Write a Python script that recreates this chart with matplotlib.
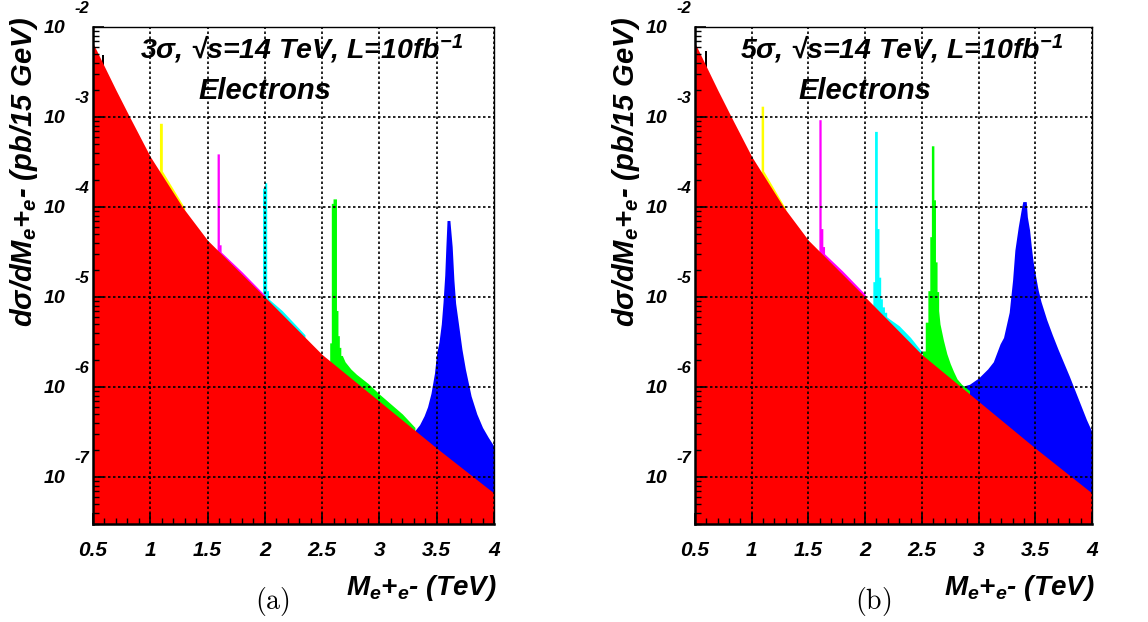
import numpy as np
import matplotlib.pyplot as plt
from matplotlib.ticker import MultipleLocator, LogLocator, NullFormatter, FixedLocator, FixedFormatter

plt.rcParams['font.family'] = ['Liberation Sans', 'DejaVu Sans']
plt.rcParams['mathtext.default'] = 'regular'

x_ticks = [0.5, 1.0, 1.5, 2.0, 2.5, 3.0, 3.5, 4.0]
x_tick_labels = ["0.5", "1", "1.5", "2", "2.5", "3", "3.5", "4"]
y_decades = [-7, -6, -5, -4, -3, -2]

# Drell-Yan background, log10(dsigma/dM)
dy_mass = [0.50, 0.60, 0.70, 0.82, 1.00, 1.28, 1.50, 2.00, 2.50, 3.00, 3.50, 4.00]
dy_log = [-2.18, -2.44, -2.70, -3.00, -3.44, -4.00, -4.37, -5.00, -5.64, -6.16, -6.68, -7.18]

# panel (a), 3 sigma: signal + DY, log10 values
a_black_m = [0.582, 0.582, 0.600, 0.600]
a_black_log = [-2.50, -2.31, -2.31, -2.50]
a_yellow_m = [1.080, 1.080, 1.105, 1.105, 1.30]
a_yellow_log = [-3.66, -3.07, -3.07, -3.60, -4.01]
a_magenta_m = [1.583, 1.583, 1.603, 1.603, 1.618, 1.618, 1.80, 2.00]
a_magenta_log = [-4.55, -3.41, -3.41, -4.42, -4.42, -4.50, -4.72, -4.98]
a_cyan_m = [1.980, 1.980, 1.998, 1.998, 2.016, 2.016, 2.032, 2.032, 2.15, 2.35]
a_cyan_log = [-5.05, -3.79, -3.79, -3.73, -3.73, -4.93, -4.93, -5.02, -5.15, -5.42]
a_green_m = [2.566, 2.566, 2.580, 2.580, 2.595, 2.595, 2.625, 2.625, 2.638, 2.638,
             2.650, 2.650, 2.663, 2.663, 2.676, 2.70, 2.75, 2.80, 2.90, 3.00, 3.10,
             3.20, 3.31]
a_green_log = [-5.75, -5.51, -5.51, -3.96, -3.96, -3.91, -3.91, -5.15, -5.15, -5.43,
               -5.43, -5.56, -5.56, -5.65, -5.65, -5.72, -5.80, -5.86, -5.96, -6.08,
               -6.19, -6.30, -6.45]
a_blue_m = [3.30, 3.35, 3.39, 3.42, 3.45, 3.48, 3.50, 3.52, 3.54, 3.555, 3.57, 3.58,
            3.59, 3.615, 3.635, 3.65, 3.665, 3.69, 3.72, 3.75, 3.80, 3.85, 3.90, 3.95, 4.00]
a_blue_log = [-6.50, -6.42, -6.32, -6.22, -6.07, -5.85, -5.62, -5.50, -5.30, -5.06,
              -4.76, -4.44, -4.15, -4.15, -4.44, -4.81, -5.07, -5.30, -5.58, -5.80,
              -6.10, -6.30, -6.45, -6.56, -6.66]

# panel (b), 5 sigma
b_black_m = [0.592, 0.592, 0.610, 0.610]
b_black_log = [-2.55, -2.27, -2.27, -2.55]
b_yellow_m = [1.083, 1.083, 1.105, 1.105, 1.30]
b_yellow_log = [-3.66, -2.88, -2.88, -3.60, -4.02]
b_magenta_m = [1.592, 1.592, 1.612, 1.612, 1.627, 1.627, 1.642, 1.642, 1.80, 2.00]
b_magenta_log = [-4.55, -3.03, -3.03, -4.24, -4.24, -4.44, -4.44, -4.52, -4.71, -4.97]
b_cyan_m = [2.068, 2.068, 2.083, 2.083, 2.107, 2.107, 2.122, 2.122, 2.137, 2.137, 2.152,
            2.152, 2.17, 2.17, 2.19, 2.19, 2.21, 2.30, 2.40, 2.50]
b_cyan_log = [-5.12, -4.83, -4.83, -3.16, -3.16, -4.24, -4.24, -4.78, -4.78, -5.02,
              -5.02, -5.11, -5.11, -5.17, -5.17, -5.22, -5.24, -5.32, -5.45, -5.61]
b_green_m = [2.505, 2.505, 2.53, 2.53, 2.553, 2.553, 2.570, 2.570, 2.584, 2.584, 2.606,
             2.606, 2.620, 2.620, 2.634, 2.634, 2.648, 2.648, 2.66, 2.69, 2.72, 2.75,
             2.78, 2.81, 2.85, 2.92]
b_green_log = [-5.66, -5.60, -5.60, -5.28, -5.28, -4.93, -4.93, -4.33, -4.33, -3.32,
               -3.32, -3.92, -3.92, -4.61, -4.61, -4.94, -4.94, -5.15, -5.30, -5.48,
               -5.63, -5.74, -5.83, -5.91, -5.97, -6.04]
b_blue_m = [2.84, 2.92, 3.00, 3.08, 3.13, 3.19, 3.22, 3.27, 3.30, 3.32, 3.35, 3.38, 3.39,
            3.42, 3.43, 3.45, 3.465, 3.48, 3.50, 3.525, 3.55, 3.60, 3.65, 3.70, 3.75,
            3.80, 3.85, 3.90, 3.95, 4.00]
b_blue_log = [-6.00, -5.97, -5.90, -5.80, -5.72, -5.52, -5.45, -5.17, -4.81, -4.48,
              -4.22, -4.00, -3.94, -3.94, -4.11, -4.26, -4.44, -4.60, -4.75, -4.92,
              -5.05, -5.25, -5.42, -5.58, -5.73, -5.88, -6.04, -6.20, -6.36, -6.50]

panel_a = [(a_blue_m, a_blue_log, '#0000ff'), (a_green_m, a_green_log, '#00ff00'),
           (a_cyan_m, a_cyan_log, '#00ffff'), (a_magenta_m, a_magenta_log, '#ff00ff'),
           (a_yellow_m, a_yellow_log, '#ffff00'), (a_black_m, a_black_log, 'black')]
panel_b = [(b_blue_m, b_blue_log, '#0000ff'), (b_green_m, b_green_log, '#00ff00'),
           (b_cyan_m, b_cyan_log, '#00ffff'), (b_magenta_m, b_magenta_log, '#ff00ff'),
           (b_yellow_m, b_yellow_log, '#ffff00'), (b_black_m, b_black_log, 'black')]

FLOOR = 1e-9
bi = dict(fontweight='bold', fontstyle='italic')


def draw_panel(ax, signals):
    for m, lg, col in signals:
        ax.fill_between(m, FLOOR, 10.0 ** np.array(lg), color=col, lw=0, zorder=1)
    ax.fill_between(dy_mass, FLOOR, 10.0 ** np.array(dy_log), color='#ff0000', lw=0, zorder=2)

    ax.set_yscale('log')
    ax.set_xlim(0.5, 4.0)
    ax.set_ylim(3.0e-8, 1e-2)
    ax.xaxis.set_major_locator(FixedLocator(x_ticks))
    ax.xaxis.set_major_formatter(FixedFormatter(x_tick_labels))
    ax.xaxis.set_minor_locator(MultipleLocator(0.1))
    ax.yaxis.set_major_locator(LogLocator(base=10, numticks=20))
    ax.yaxis.set_minor_locator(LogLocator(base=10, subs=np.arange(2, 10), numticks=20))
    ax.yaxis.set_minor_formatter(NullFormatter())
    ax.tick_params(which='both', direction='in', top=False, right=False, color='black')
    ax.tick_params(which='major', length=8, width=1.2)
    ax.tick_params(which='minor', length=4, width=1.0)
    ax.tick_params(axis='y', labelleft=False)
    ax.tick_params(axis='x', pad=12, labelsize=15)
    for lab in ax.get_xticklabels():
        lab.set_fontweight('bold')
        lab.set_fontstyle('italic')

    ax.set_axisbelow(False)
    ax.grid(True, which='major', color='black', linestyle=(0, (1.5, 1.5)), linewidth=1.2)

    for sp in ['left', 'bottom']:
        ax.spines[sp].set_linewidth(1.8)
    for sp in ['top', 'right']:
        ax.spines[sp].set_linewidth(1.0)

    for d in y_decades:
        ax.annotate("10", xy=(0, 10.0 ** d), xycoords=('axes fraction', 'data'),
                    xytext=(-19.5, -1), textcoords='offset points', ha='right', va='center',
                    fontsize=14, annotation_clip=False, **bi)
        ax.annotate(str(d), xy=(0, 10.0 ** d), xycoords=('axes fraction', 'data'),
                    xytext=(-13.5, 13.5), textcoords='offset points', ha='left', va='center',
                    fontsize=12, annotation_clip=False, **bi)

    ax.text(1.005, -0.128, "M$_{e}$+$_{e}$- (TeV)", transform=ax.transAxes,
            ha='right', va='center', fontsize=20, **bi)


fig = plt.figure(figsize=(11.48, 6.22), dpi=100)
axa = fig.add_axes([93 / 1148, 98 / 622, 401 / 1148, 497 / 622])
axb = fig.add_axes([695 / 1148, 98 / 622, 397 / 1148, 497 / 622])

draw_panel(axa, panel_a)
draw_panel(axb, panel_b)

ylab = "d\u03c3/dM$_{e}$+$_{e}$- (pb/15 GeV)"
fig.text(24 / 1148, 1 - 172 / 622, ylab, rotation=90, ha='center', va='center', fontsize=21, **bi)
fig.text(626 / 1148, 1 - 172 / 622, ylab, rotation=90, ha='center', va='center', fontsize=21, **bi)

fig.text(302 / 1148, 1 - 49 / 622, "3\u03c3, \u221as=14 TeV, L=10fb$^{-1}$",
         ha='center', va='center', fontsize=20.5, **bi)
fig.text(265 / 1148, 1 - 91 / 622, "Electrons", ha='center', va='center', fontsize=21, **bi)
fig.text(902 / 1148, 1 - 49 / 622, "5\u03c3, \u221as=14 TeV, L=10fb$^{-1}$",
         ha='center', va='center', fontsize=20.5, **bi)
fig.text(865 / 1148, 1 - 91 / 622, "Electrons", ha='center', va='center', fontsize=21, **bi)

fig.text(272 / 1148, 1 - 602 / 622, r"$\mathrm{(a)}$", math_fontfamily='cm',
         ha='center', va='center', fontsize=20)
fig.text(873 / 1148, 1 - 602 / 622, r"$\mathrm{(b)}$", math_fontfamily='cm',
         ha='center', va='center', fontsize=20)

fig.savefig("out.png", dpi=100)
